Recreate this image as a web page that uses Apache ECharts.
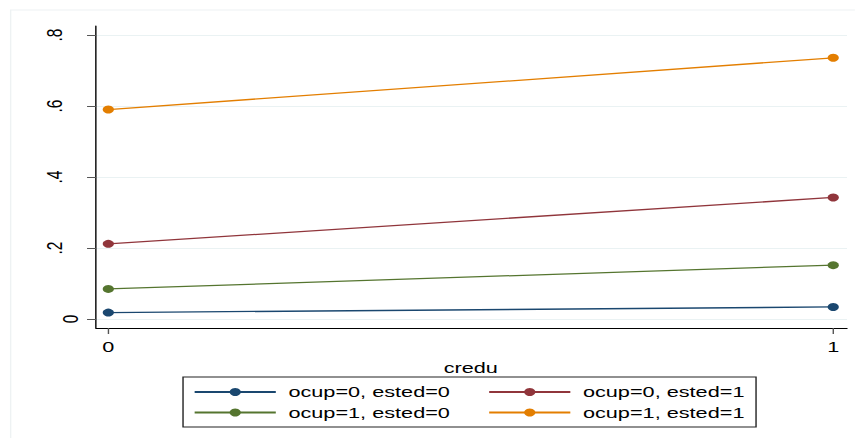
<!DOCTYPE html>
<html>
<head>
<meta charset="utf-8">
<script src="https://cdn.jsdelivr.net/npm/echarts@6/dist/echarts.min.js"></script>
<style>
  html, body { margin: 0; padding: 0; background: #fff; overflow: hidden; }
  #wrap { width: 855px; height: 438px; overflow: hidden; }
  /* The figure is laid out on a narrower canvas and widened to the page width */
  #chart { width: 611px; height: 438px; transform-origin: 0 0; transform: scaleX(1.3993); }
</style>
</head>
<body>
<div id="wrap"><div id="chart"></div></div>
<script>
// Predicted probabilities by credu for each ocup/ested group
const categories = [0, 1];
const seriesNames = ['ocup=0, ested=0', 'ocup=0, ested=1', 'ocup=1, ested=0', 'ocup=1, ested=1'];
const valsOcup0Ested0 = [0.018, 0.034];
const valsOcup0Ested1 = [0.212, 0.343];
const valsOcup1Ested0 = [0.085, 0.152];
const valsOcup1Ested1 = [0.591, 0.737];
const yTickValues = [0, 0.2, 0.4, 0.6, 0.8];
const xTickLabels = ['0', '1'];
const xTitle = 'credu';

const seriesValues = [valsOcup0Ested0, valsOcup0Ested1, valsOcup1Ested0, valsOcup1Ested1];
const colors = ['#1a476f', '#90353b', '#55752f', '#e37e00'];

const FONT = 'Liberation Sans, Arial, sans-serif';
const FS = 15.5;

function yLabel(v) {
  return String(+v.toFixed(1)).replace(/^0\./, '.');
}

const chart = echarts.init(document.getElementById('chart'), null, { renderer: 'svg' });

const series = seriesNames.map((name, i) => ({
  name: name,
  type: 'line',
  xAxisIndex: 0,
  yAxisIndex: 0,
  data: categories.map((c, j) => [c, seriesValues[i][j]]),
  symbol: 'circle',
  symbolSize: 8,
  showSymbol: true,
  lineStyle: { color: colors[i], width: 1.3 },
  itemStyle: { color: colors[i] },
  emphasis: { disabled: true },
  animation: false,
  z: 5
}));

const legendCommon = {
  orient: 'horizontal',
  itemWidth: 58,
  itemHeight: 10,
  itemGap: 27,
  padding: 0,
  selectedMode: false,
  textStyle: { fontFamily: FONT, fontSize: FS, color: '#000', padding: [0, 0, 0, 4] }
};

chart.setOption({
  animation: false,
  backgroundColor: '#fff',
  grid: [
    { left: 68.6, right: 5.7, top: 26, bottom: 110 },   // data and axis lines
    { left: 68.6, right: 5.7, top: 35, bottom: 119 },   // y ticks, labels, grid lines
    { left: 77.4, right: 15.5, top: 26, bottom: 110 }   // x ticks and labels
  ],
  xAxis: [
    {
      gridIndex: 0, type: 'value', min: -0.017, max: 1.019,
      axisLine: { show: true, onZero: false, lineStyle: { color: '#000', width: 1 } },
      axisTick: { show: false }, axisLabel: { show: false }, splitLine: { show: false }
    },
    { gridIndex: 1, type: 'value', min: 0, max: 1, show: false },
    {
      gridIndex: 2, type: 'value', min: 0, max: 1, interval: 1, position: 'bottom',
      axisLine: { show: false },
      axisTick: { show: true, length: 6, lineStyle: { color: '#555', width: 1 } },
      axisLabel: {
        show: true, margin: 11, fontFamily: FONT, fontSize: FS, color: '#000',
        formatter: v => xTickLabels[categories.indexOf(v)] || ''
      },
      splitLine: { show: false },
      name: xTitle, nameLocation: 'middle', nameGap: 17,
      nameTextStyle: { fontFamily: FONT, fontSize: FS, color: '#000' }
    }
  ],
  yAxis: [
    {
      gridIndex: 0, type: 'value', min: -0.0254, max: 0.8268, position: 'left',
      axisLine: { show: true, onZero: false, lineStyle: { color: '#000', width: 1 } },
      axisTick: { show: false }, axisLabel: { show: false }, splitLine: { show: false }
    },
    {
      gridIndex: 1, type: 'value', position: 'left',
      min: yTickValues[0], max: yTickValues[yTickValues.length - 1], interval: 0.2,
      axisLine: { show: false },
      axisTick: { show: true, length: 6.4, lineStyle: { color: '#555', width: 1 } },
      axisLabel: {
        show: true, rotate: 90, margin: 22, fontFamily: FONT, fontSize: FS, color: '#000',
        formatter: v => (Math.abs(v) < 1e-9 ? '' : yLabel(v))
      },
      splitLine: { show: true, lineStyle: { color: '#eaf2f3', width: 1 } }
    },
    {
      gridIndex: 1, type: 'value', position: 'left', offset: 0,
      min: yTickValues[0], max: yTickValues[yTickValues.length - 1], interval: 0.2,
      axisLine: { show: false }, axisTick: { show: false }, splitLine: { show: false },
      axisLabel: {
        show: true, rotate: 90, margin: 10, fontFamily: FONT, fontSize: FS, color: '#000',
        formatter: v => (Math.abs(v) < 1e-9 ? '0' : '')
      }
    },
    { gridIndex: 2, type: 'value', min: 0, max: 1, show: false }
  ],
  legend: [
    Object.assign({}, legendCommon, { data: [seriesNames[0], seriesNames[1]], left: 138.1, top: 384 }),
    Object.assign({}, legendCommon, { data: [seriesNames[2], seriesNames[3]], left: 138.1, top: 404.5 })
  ],
  graphic: [
    {
      type: 'rect', silent: true,
      shape: { x: 130.8, y: 377, width: 409.5, height: 50 },
      style: { fill: 'none', stroke: '#222', lineWidth: 1 }
    },
    {
      type: 'polyline', silent: true,
      shape: { points: [[7.6, 438], [7.6, 10], [611, 10]] },
      style: { fill: 'none', stroke: '#eef2f3', lineWidth: 1 }
    }
  ],
  series: series
});
</script>
</body>
</html>
